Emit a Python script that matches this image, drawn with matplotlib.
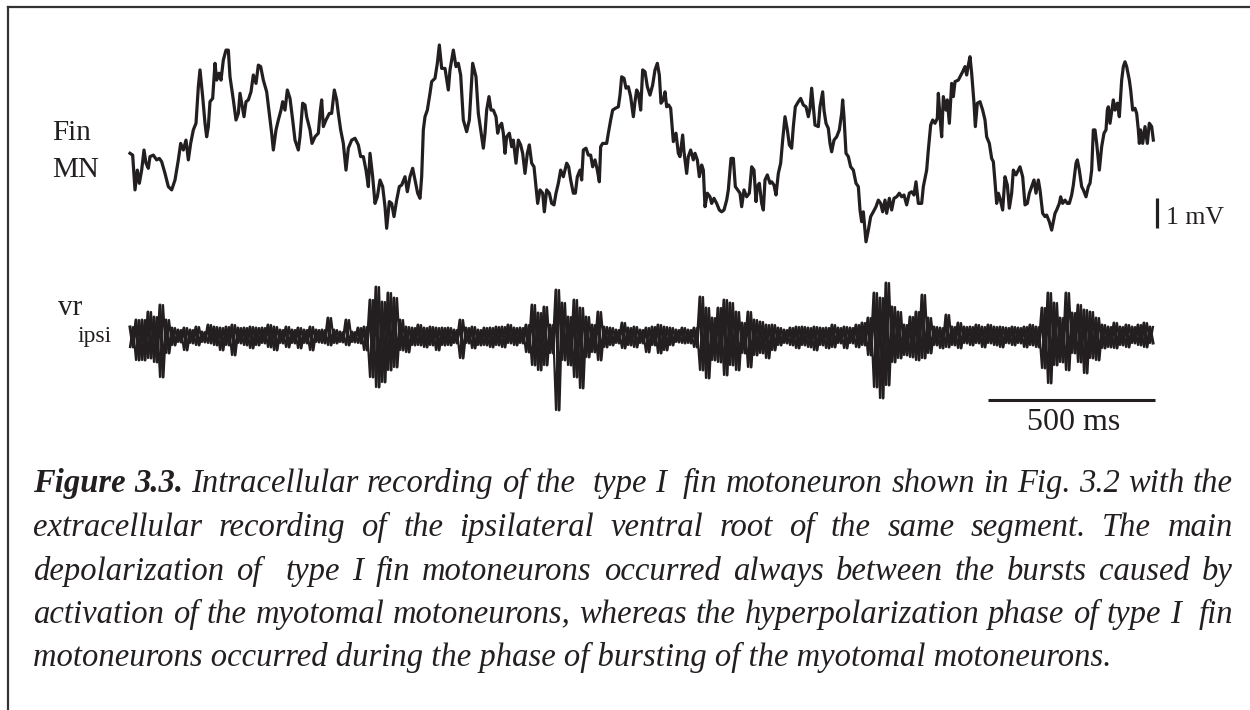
import matplotlib
matplotlib.use("Agg")
import matplotlib.pyplot as plt
from matplotlib.lines import Line2D
import numpy as np

W, H = 1250, 710
INK = "#231f20"
SERIF = ["Liberation Serif", "DejaVu Serif"]

# intracellular fin motoneuron trace: time (ms) and membrane potential (mV, relative)
fin_t = [
    0, 8, 15, 22, 28, 35, 42, 48, 55, 60, 70, 80, 88, 95, 105, 115, 125, 135, 145, 152,
    160, 168, 175, 182, 190, 198, 205, 210, 218, 225, 230, 235, 240, 248, 255, 260, 267, 273, 280, 288,
    295, 300, 310, 318, 325, 330, 337, 342, 348, 355, 363, 370, 378, 385, 392, 400, 410, 418, 425, 430,
    438, 445, 453, 458, 465, 472, 480, 488, 495, 505, 510, 518, 525, 530, 540, 546, 555, 565, 570, 575,
    580, 588, 598, 605, 613, 620, 625, 632, 640, 648, 655, 665, 675, 685, 692, 700, 708, 715, 720, 728,
    735, 742, 750, 758, 765, 770, 778, 785, 792, 800, 808, 815, 825, 832, 840, 848, 855, 863, 870, 875,
    880, 885, 892, 900, 905, 915, 922, 928, 935, 945, 955, 960, 970, 978, 985, 992, 1000, 1010, 1018, 1028,
    1038, 1045,
    1055, 1060, 1065, 1070, 1077, 1083, 1090, 1098, 1103, 1108, 1115, 1120, 1125, 1130, 1138, 1145, 1150, 1158, 1165, 1172,
    1178, 1185, 1192, 1198, 1205, 1212, 1218, 1223, 1230, 1238, 1243, 1250, 1258, 1265, 1272, 1278, 1285, 1292, 1300, 1310,
    1316, 1322, 1330, 1336, 1342, 1350, 1355, 1360, 1368, 1375, 1382, 1388, 1395, 1402, 1408, 1412, 1418, 1430, 1435, 1442,
    1448, 1456, 1465, 1470, 1475, 1482, 1488, 1495, 1502, 1510, 1515, 1520, 1525, 1532, 1538, 1545, 1552, 1560, 1568, 1575,
    1582, 1588, 1593, 1600, 1605, 1610, 1616, 1622, 1630, 1638, 1645, 1650, 1658, 1662, 1670, 1675, 1682, 1690, 1695, 1702,
    1708, 1715, 1720, 1725, 1732, 1740, 1745, 1752, 1760, 1768, 1775, 1782, 1790, 1795, 1803, 1810, 1816, 1823, 1830, 1835,
    1842, 1850, 1858, 1865, 1872, 1878, 1882, 1888, 1895, 1900, 1905, 1912, 1920, 1925, 1932, 1938, 1945, 1952, 1958, 1965,
    1972, 1978, 1985, 1990, 1996, 2005, 2012, 2020, 2028, 2035, 2040, 2045, 2050, 2055, 2065, 2070, 2078, 2082, 2088, 2095,
    2100,
    2105, 2112, 2120, 2128, 2135, 2138, 2142, 2148, 2155, 2162, 2170, 2178, 2185, 2190, 2195, 2200, 2205, 2208, 2215, 2222,
    2230, 2238, 2245, 2252, 2258, 2265, 2270, 2278, 2285, 2292, 2300, 2308, 2315, 2322, 2330, 2338, 2345, 2352, 2358, 2365,
    2375, 2380, 2390, 2395, 2402, 2408, 2415, 2422, 2425, 2430, 2435, 2440, 2448, 2452, 2458, 2465, 2470, 2475, 2485, 2490,
    2498, 2505, 2510, 2515, 2520, 2525, 2532, 2536, 2542, 2550, 2558, 2565, 2570, 2578, 2585, 2590, 2595, 2600, 2605, 2610,
    2618, 2625, 2632, 2638, 2645, 2650, 2658, 2665, 2670, 2678, 2685, 2692, 2698, 2705, 2712, 2718, 2725, 2730, 2738, 2745,
    2750, 2758, 2765, 2770, 2775, 2780, 2788, 2792, 2798, 2805, 2812, 2818, 2825, 2830, 2838, 2842, 2848, 2855, 2860, 2868,
    2875, 2880, 2885, 2890, 2895, 2900, 2908, 2915, 2922, 2928, 2932, 2935, 2940, 2945, 2950, 2955, 2962, 2968, 2975, 2980,
    2985, 2990, 2998, 3002, 3008, 3015, 3020, 3025, 3028, 3032, 3038, 3045, 3052, 3058, 3065, 3070,
]
fin_v = [
    2.99, 2.93, 1.77, 2.43, 1.99, 2.43, 3.10, 2.66, 2.49, 2.88, 2.93, 2.77, 2.82, 2.71, 2.32, 1.88, 1.77, 2.10, 2.77, 3.32,
    3.10, 3.43, 2.77, 3.32, 3.77, 3.99, 5.21, 5.77, 4.88, 3.99, 3.54, 3.88, 4.71, 4.82, 5.99, 5.43, 5.66, 5.43, 6.10, 6.43,
    6.43, 5.54, 4.77, 4.10, 4.32, 4.99, 4.54, 4.21, 4.71, 4.77, 5.04, 5.60, 5.32, 5.93, 5.88, 5.43, 5.04, 4.32, 3.66, 3.10,
    3.77, 4.10, 4.43, 4.71, 4.43, 5.10, 4.82, 4.10, 3.43, 3.10, 3.54, 4.66, 4.60, 4.21, 3.77, 3.32, 3.54, 3.66, 4.32, 4.77,
    3.88, 4.10, 4.32, 4.32, 5.10, 4.77, 4.32, 3.77, 3.32, 2.43, 3.16, 3.43, 3.49, 3.27, 2.88, 2.88, 2.43, 1.88, 2.99, 2.21,
    1.32, 1.54, 2.10, 1.88, 1.21, 0.49, 1.38, 1.32, 0.88, 1.43, 1.88, 1.93, 2.21, 1.71, 2.21, 2.49, 2.10, 1.66, 1.49, 2.21,
    3.77, 4.21, 4.43, 4.99, 5.38, 5.49, 5.99, 6.60, 5.82, 5.82, 5.10, 5.77, 6.43, 5.88, 5.99, 5.60, 4.10, 3.71, 4.10, 5.99,
    5.54, 4.32,
    3.54, 3.16, 3.66, 4.43, 4.88, 4.43, 4.43, 4.21, 3.66, 3.88, 3.99, 3.66, 2.99, 3.54, 3.66, 3.21, 3.43, 2.66, 3.43, 3.27,
    2.99, 2.32, 2.99, 3.27, 2.66, 2.54, 1.88, 1.32, 1.77, 1.66, 1.04, 1.77, 1.66, 1.32, 1.27, 1.66, 1.99, 2.43, 2.21, 2.66,
    2.54, 2.10, 1.66, 1.66, 2.21, 2.43, 2.10, 3.10, 3.16, 2.93, 2.93, 2.54, 2.77, 2.43, 2.04, 3.21, 3.32, 3.32, 3.66, 4.10,
    4.43, 4.49, 4.54, 4.93, 5.54, 5.49, 5.16, 5.21, 4.88, 4.21, 4.71, 5.10, 4.99, 4.43, 5.77, 5.71, 5.21, 4.93, 5.27, 5.77,
    5.99, 5.60, 4.66, 4.77, 5.04, 4.54, 4.60, 4.49, 3.38, 3.66, 2.99, 2.88, 3.60, 3.04, 2.32, 2.88, 3.10, 2.77, 2.99, 2.77,
    2.21, 2.60, 2.43, 1.21, 1.66, 1.54, 1.32, 1.49, 1.32, 1.10, 1.04, 1.10, 1.43, 1.77, 2.82, 2.82, 1.88, 1.77, 1.66, 1.21,
    1.77, 1.54, 1.66, 2.54, 2.43, 1.38, 1.88, 1.99, 1.32, 1.10, 2.10, 2.27, 1.99, 2.04, 1.93, 1.60, 2.32, 2.66, 3.43, 4.21,
    3.77, 3.27, 3.16, 3.88, 4.54, 4.71, 4.82, 4.60, 4.54, 4.21, 4.49, 5.16, 4.54, 3.93, 3.88, 4.54, 5.04, 4.43, 3.99, 3.82,
    3.32,
    3.04, 3.43, 3.54, 3.77, 4.32, 4.77, 4.21, 2.99, 2.88, 2.54, 2.43, 1.99, 1.88, 1.10, 0.71, 1.04, 0.43, 0.04, 0.43, 0.88,
    1.04, 1.21, 1.43, 1.32, 1.04, 1.43, 0.99, 1.49, 1.10, 1.49, 1.54, 1.66, 1.54, 1.60, 1.27, 1.66, 1.71, 1.60, 2.04, 1.32,
    1.32, 1.88, 2.43, 3.10, 3.93, 4.10, 3.99, 4.16, 4.99, 4.21, 3.54, 4.88, 4.43, 4.77, 3.99, 5.32, 4.88, 5.38, 5.43, 5.54,
    5.71, 5.88, 5.60, 5.93, 6.21, 5.66, 4.66, 3.88, 4.66, 4.71, 4.43, 4.10, 3.54, 3.32, 2.82, 2.71, 2.04, 1.32, 1.66, 1.49,
    1.10, 2.21, 1.93, 1.16, 1.66, 2.43, 2.27, 2.43, 2.54, 2.21, 1.27, 1.32, 1.66, 1.88, 2.10, 1.66, 2.10, 1.77, 0.99, 0.88,
    0.93, 0.71, 0.43, 0.71, 0.99, 1.10, 1.32, 1.54, 1.32, 1.43, 1.32, 1.32, 1.60, 1.93, 2.66, 2.77, 2.43, 1.88, 1.77, 1.54,
    1.88, 1.99, 2.43, 3.77, 3.77, 3.32, 2.43, 3.21, 3.66, 3.77, 4.43, 4.54, 3.99, 4.38, 4.77, 4.43, 4.66, 4.21, 5.43, 5.88,
    6.04, 5.88, 5.43, 5.10, 4.43, 4.49, 4.32, 3.77, 3.32, 3.77, 3.32, 3.88, 3.32, 3.99, 3.88, 3.43,
]

# ventral root (ipsi) recording: upper / lower excursion per 18 ms bin, arbitrary units
vr_step = 18
vr_hi = [
    8, 15, 15, 23, 18, 30, 15, 7, 5, 7, 5, 8, 3, 10, 8, 7, 8, 10, 7, 7,
    8, 7, 7, 10, 8, 5, 8, 5, 7, 5, 8, 5, 5, 17, 5, 3, 15, 3, 7, 8,
    35, 48, 33, 42, 37, 15, 8, 7, 10, 7, 8, 7, 7,
    7, 5, 15, 7, 8, 5, 7, 7, 8, 8, 10, 7, 7, 10, 30, 22, 28, 10, 45, 32,
    18, 35, 27, 18, 10, 23, 8, 7, 5, 12, 7, 8, 5, 7, 8, 10, 8, 7, 5, 7,
    5, 7, 38, 27, 17, 27, 35, 32, 23, 12, 23, 15, 13, 10, 10, 7, 5, 7, 8, 8,
    7, 8, 7,
    7, 10, 7, 8, 7, 10, 12, 17, 42, 37, 52, 28, 23, 10, 18, 23, 40, 17, 8, 7,
    20, 8, 12, 8, 8, 10, 8, 10, 8, 8, 7, 8, 7, 8, 10, 8, 27, 42, 32, 17,
    42, 22, 30, 25, 23, 17, 10, 8, 12, 8, 10, 8, 10, 12, 8,
]
vr_lo = [
    -12, -25, -25, -23, -27, -42, -18, -10, -7, -15, -8, -10, -7, -8, -10, -15, -10, -20, -8, -10,
    -13, -10, -8, -12, -15, -8, -12, -8, -13, -8, -15, -7, -8, -10, -8, -7, -10, -7, -8, -15,
    -42, -52, -47, -35, -32, -15, -17, -10, -10, -12, -10, -15, -10,
    -10, -8, -23, -8, -13, -10, -10, -12, -10, -12, -8, -10, -8, -17, -30, -35, -30, -18, -75, -25,
    -30, -42, -53, -22, -17, -25, -12, -10, -8, -13, -10, -12, -8, -17, -10, -18, -15, -10, -7, -8,
    -8, -12, -35, -43, -25, -27, -40, -30, -35, -18, -32, -20, -18, -23, -15, -10, -8, -10, -13, -10,
    -12, -15, -10,
    -13, -12, -8, -13, -8, -12, -10, -20, -52, -63, -50, -27, -23, -20, -22, -25, -23, -18, -10, -13,
    -12, -10, -13, -8, -10, -8, -12, -8, -10, -12, -8, -10, -8, -12, -10, -12, -33, -48, -30, -27,
    -35, -18, -27, -38, -23, -25, -13, -12, -13, -10, -12, -8, -10, -12, -8,
]

caption_lines = [
    "Intracellular recording of the  type I  fin motoneuron shown in Fig. 3.2 with the",
    "extracellular recording of the ipsilateral ventral root of the same segment. The main",
    "depolarization of  type I fin motoneurons occurred always between the bursts caused by",
    "activation of the myotomal motoneurons, whereas the hyperpolarization phase of type I  fin",
    "motoneurons occurred during the phase of bursting of the myotomal motoneurons.",
]
caption_label = "Figure 3.3."


def fx(px):
    return px / W


def fy(py):
    return 1 - py / H


fig = plt.figure(figsize=(W / 100, H / 100), dpi=100)
fig.patch.set_facecolor("white")

# Fin MN trace
ax1 = fig.add_axes([fx(130), fy(243), (W - 130) / W, 198 / H])
ax1.set_xlim(0, 3360)
ax1.set_ylim(0, 6.6)
ax1.axis("off")
ax1.plot(fin_t, fin_v, color=INK, lw=2.3, solid_joinstyle="round", clip_on=False)
# 1 mV calibration
ax1.plot([3081, 3081], [0.5, 1.5], color=INK, lw=2.3, solid_capstyle="butt", clip_on=False)
ax1.text(3108, 0.63, "1 mV", fontsize=18.5, family=SERIF, color=INK, va="baseline")

# ventral root trace (drawn as two interleaved zig-zags so the band reads solid)
ax2 = fig.add_axes([fx(130), fy(395), (W - 130) / W, 120 / H])
ax2.set_xlim(0, 3360)
ax2.set_ylim(-60, 60)
ax2.axis("off")
vt = np.arange(len(vr_hi)) * vr_step
xs = np.column_stack([vt, vt + vr_step / 2]).ravel()
ax2.plot(xs, np.column_stack([vr_hi, vr_lo]).ravel(), color=INK, lw=2.2, clip_on=False)
ax2.plot(xs, np.column_stack([vr_lo, vr_hi]).ravel(), color=INK, lw=1.6, clip_on=False)
# 500 ms calibration
ax2.plot([2575, 3075], [-65, -65], color=INK, lw=2.2, solid_capstyle="butt", clip_on=False)
ax2.text(2830, -95, "500 ms", fontsize=23, family=SERIF, color=INK, ha="center", va="baseline")

# trace labels
fig.text(fx(52), fy(140), "Fin", fontsize=21, family=SERIF, color=INK, va="baseline")
fig.text(fx(52), fy(177), "MN", fontsize=21, family=SERIF, color=INK, va="baseline")
fig.text(fx(58), fy(315), "vr", fontsize=21, family=SERIF, color=INK, va="baseline")
fig.text(fx(77), fy(342), "ipsi", fontsize=17, family=SERIF, color=INK, va="baseline")

# frame (top and left edges only, rest is cropped)
fig.add_artist(Line2D([fx(8), 1], [fy(7), fy(7)], color="#333333", lw=1.6))
fig.add_artist(Line2D([fx(8), fx(8)], [fy(7), 0], color="#333333", lw=1.6))

# justified caption
renderer = fig.canvas.get_renderer()
cap_size = 23.5
left, right = 33, 1233
baselines = [492, 536, 580, 623, 666]


def measure(s, weight):
    t = fig.text(0, 0, s, fontsize=cap_size, family=SERIF, style="italic", weight=weight)
    w = t.get_window_extent(renderer).width
    t.remove()
    return w


for i, line in enumerate(caption_lines):
    words = [(w, "normal") for w in line.split(" ")]
    if i == 0:
        words = [(w, "bold") for w in caption_label.split(" ")] + words
    if i == len(caption_lines) - 1:
        fig.text(fx(left), fy(baselines[i]), line, fontsize=cap_size, family=SERIF,
                 style="italic", color=INK, va="baseline")
        continue
    widths = [measure(w, wt) if w else 0 for w, wt in words]
    gap = (right - left - sum(widths)) / (len(words) - 1)
    x = left
    for (w, wt), ww in zip(words, widths):
        if w:
            fig.text(fx(x), fy(baselines[i]), w, fontsize=cap_size, family=SERIF,
                     style="italic", weight=wt, color=INK, va="baseline")
        x += ww + gap

fig.savefig("out.png", dpi=100, facecolor="white")
